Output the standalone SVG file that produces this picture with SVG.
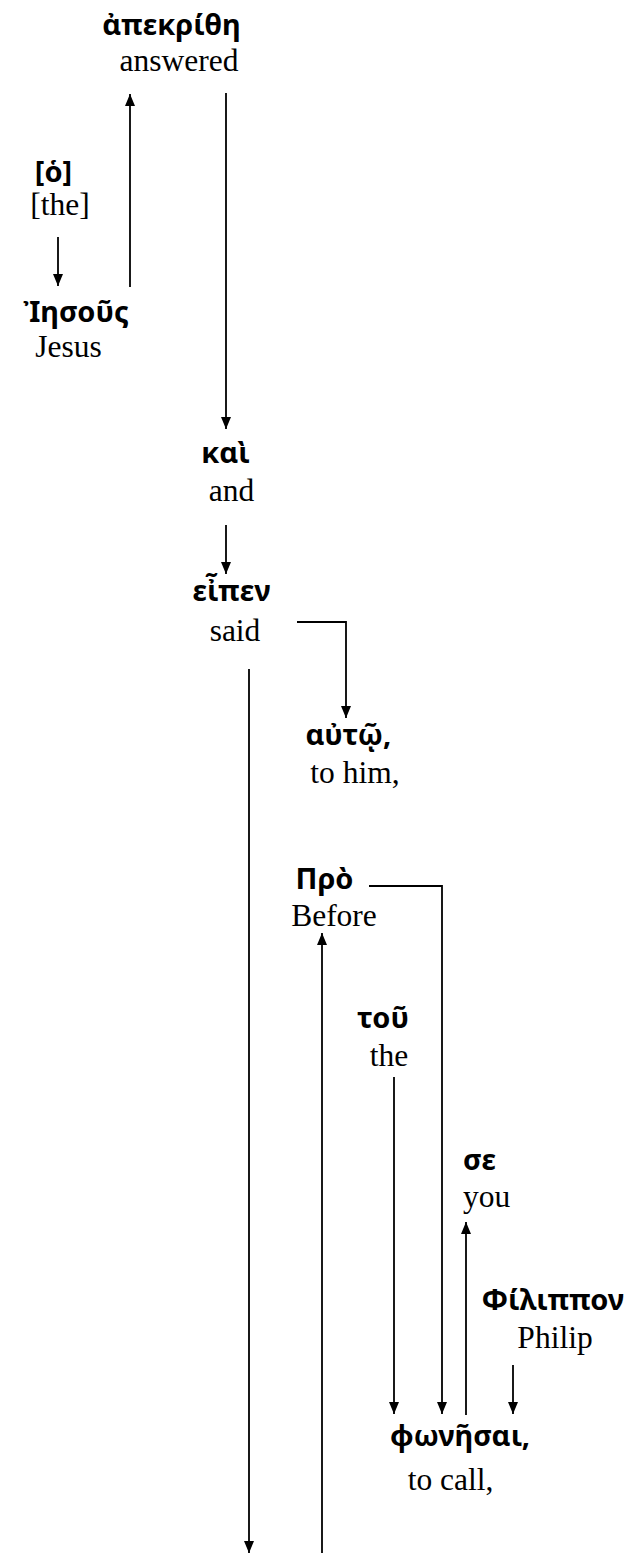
<svg xmlns="http://www.w3.org/2000/svg" width="626" height="1553" viewBox="0 0 626 1553">
<style>
.gk{font-family:"Noto Sans","DejaVu Sans",sans-serif;font-weight:bold;font-size:29px;fill:#000;text-anchor:middle}
.en{font-family:"Liberation Serif","Times New Roman",serif;font-size:31.5px;fill:#000;text-anchor:middle}
.c{stroke:#000;stroke-width:1.8;fill:none}
</style>
<defs>
<marker id="ah" markerUnits="userSpaceOnUse" markerWidth="12" markerHeight="10" refX="12" refY="5" orient="auto">
<path d="M0,0 L12,5 L0,10 z" fill="#000"/>
</marker>
</defs>
<rect width="626" height="1553" fill="#fff"/>
<g id="connectors">
<path class="c" d="M130,287 V94" marker-end="url(#ah)"/>
<path class="c" d="M58,237 V286" marker-end="url(#ah)"/>
<path class="c" d="M226,93 V429" marker-end="url(#ah)"/>
<path class="c" d="M226,525 V574" marker-end="url(#ah)"/>
<path class="c" d="M297,622 H346 V718" marker-end="url(#ah)"/>
<path class="c" d="M249,669 V1553" marker-end="url(#ah)"/>
<path class="c" d="M369,886 H442 V1414" marker-end="url(#ah)"/>
<path class="c" d="M322,1553 V933" marker-end="url(#ah)"/>
<path class="c" d="M394,1077 V1414" marker-end="url(#ah)"/>
<path class="c" d="M466,1415 V1222" marker-end="url(#ah)"/>
<path class="c" d="M513,1365 V1414" marker-end="url(#ah)"/>
</g>
<g id="n-apekrithe"><text class="gk" x="171.5" y="35">ἀπεκρίθη</text><text class="en" x="179" y="71">answered</text></g>
<g id="n-ho"><text class="gk" x="53.5" y="182">[ὁ]</text><text class="en" x="60" y="215">[the]</text></g>
<g id="n-iesous"><text class="gk" x="76" y="322">Ἰησοῦς</text><text class="en" x="68.5" y="357">Jesus</text></g>
<g id="n-kai"><text class="gk" x="225.5" y="463">καὶ</text><text class="en" x="231.5" y="501">and</text></g>
<g id="n-eipen"><text class="gk" x="231.5" y="601">εἶπεν</text><text class="en" x="235" y="641">said</text></g>
<g id="n-auto"><text class="gk" x="348.5" y="745">αὐτῷ,</text><text class="en" x="355" y="783">to him,</text></g>
<g id="n-pro"><text class="gk" x="324.5" y="889">Πρὸ</text><text class="en" x="334" y="926">Before</text></g>
<g id="n-tou"><text class="gk" x="383" y="1028">τοῦ</text><text class="en" x="389" y="1066">the</text></g>
<g id="n-se"><text class="gk" x="479.5" y="1170">σε</text><text class="en" x="486.5" y="1207">you</text></g>
<g id="n-philippon"><text class="gk" x="553" y="1310">Φίλιππον</text><text class="en" x="555" y="1348">Philip</text></g>
<g id="n-phonesai"><text class="gk" x="460" y="1446">φωνῆσαι,</text><text class="en" x="450.5" y="1490">to call,</text></g>
</svg>
